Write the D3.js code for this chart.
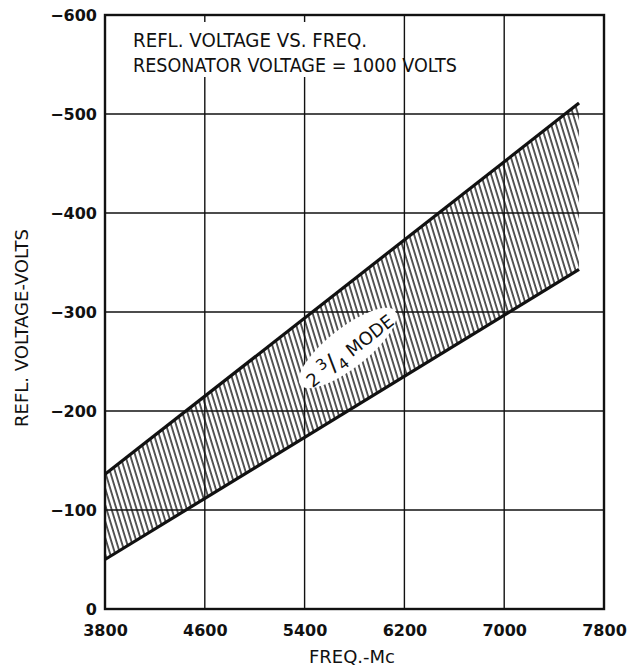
<!DOCTYPE html>
<html>
<head>
<meta charset="utf-8">
<script src="https://cdn.jsdelivr.net/npm/d3@7"></script>
<style>
  body { margin: 0; background: #fff; }
  svg { display: block; }
  text { font-family: "DejaVu Sans", sans-serif; fill: #111; }
</style>
</head>
<body>
<svg id="chart"></svg>
<script>
// band edges (freq in Mc, volts)
const freq = [3800, 7600];
const upperVolts = [-136, -511];
const lowerVolts = [-50, -343];

const xTicks = [3800, 4600, 5400, 6200, 7000, 7800];
const yTicks = [0, -100, -200, -300, -400, -500, -600];

const titleLines = ["REFL.  VOLTAGE  VS.  FREQ.", "RESONATOR  VOLTAGE = 1000  VOLTS"];

const width = 639;
const height = 669;
const plotL = 105, plotR = 604, plotT = 15, plotB = 609;

const svg = d3.select('#chart').attr('width', width).attr('height', height);

const xScale = d3.scaleLinear().domain([3800, 7800]).range([plotL, plotR]);
const yScale = d3.scaleLinear().domain([0, -600]).range([plotB, plotT]);

// hatch pattern
const defs = svg.append('defs');
defs.append('pattern')
  .attr('id', 'hatch')
  .attr('patternUnits', 'userSpaceOnUse')
  .attr('width', 4.8)
  .attr('height', 10)
  .attr('patternTransform', 'rotate(-17)')
  .append('line')
  .attr('x1', 1).attr('y1', -1)
  .attr('x2', 1).attr('y2', 11)
  .attr('stroke', '#111')
  .attr('stroke-width', 1.4);

// grid
svg.append('g').selectAll('line')
  .data(xTicks.slice(1, -1))
  .enter().append('line')
  .attr('x1', d => xScale(d)).attr('x2', d => xScale(d))
  .attr('y1', plotT).attr('y2', plotB)
  .attr('stroke', '#111').attr('stroke-width', 1.4);

svg.append('g').selectAll('line')
  .data(yTicks.slice(1, -1))
  .enter().append('line')
  .attr('x1', plotL).attr('x2', plotR)
  .attr('y1', d => yScale(d)).attr('y2', d => yScale(d))
  .attr('stroke', '#111').attr('stroke-width', 1.4);

// band
const bandData = freq.map((f, i) => ({ f: f, lo: lowerVolts[i], hi: upperVolts[i] }));
const area = d3.area()
  .x(d => xScale(d.f))
  .y0(d => yScale(d.lo))
  .y1(d => yScale(d.hi));

svg.append('path')
  .datum(bandData)
  .attr('d', area)
  .attr('fill', 'url(#hatch)');

// label over the band
const labelF = 5760;
const interp = (arr) => arr[0] + (labelF - freq[0]) / (freq[1] - freq[0]) * (arr[1] - arr[0]);
const lx = xScale(labelF);
const ly = yScale((interp(upperVolts) + interp(lowerVolts)) / 2) + 4;
const angle = -38;

const lab = svg.append('g').attr('transform', 'translate(' + lx + ',' + ly + ') rotate(' + angle + ')');
lab.append('ellipse').attr('cx', 0).attr('cy', -3).attr('rx', 60).attr('ry', 20).attr('fill', '#fff');
const lt = lab.append('text').attr('text-anchor', 'middle').attr('y', 7).style('font-size', '18px');
lt.append('tspan').text('2  ');
lt.append('tspan').attr('dy', -8).style('font-size', '15px').text('3');
lt.append('tspan').attr('dy', 8).style('font-size', '24px').text('/');
lt.append('tspan').attr('dy', 5).style('font-size', '15px').text('4');
lt.append('tspan').attr('dy', -5).text(' MODE');

// band edges
const line = d3.line().x(d => xScale(d[0])).y(d => yScale(d[1]));
[upperVolts, lowerVolts].forEach(vals => {
  svg.append('path')
    .datum(freq.map((f, i) => [f, vals[i]]))
    .attr('d', line)
    .attr('fill', 'none')
    .attr('stroke', '#111')
    .attr('stroke-width', 3.2);
});

// title block
svg.append('rect')
  .attr('x', 125).attr('y', 22).attr('width', 270).attr('height', 55)
  .attr('fill', '#fff');
svg.selectAll('text.title')
  .data(titleLines)
  .enter().append('text')
  .attr('class', 'title')
  .attr('x', 133)
  .attr('y', (d, i) => 47 + i * 25)
  .attr('textLength', (d, i) => i === 0 ? 234 : 324)
  .attr('lengthAdjust', 'spacingAndGlyphs')
  .style('font-size', '19px')
  .text(d => d);

// frame
svg.append('rect')
  .attr('x', plotL).attr('y', plotT)
  .attr('width', plotR - plotL).attr('height', plotB - plotT)
  .attr('fill', 'none').attr('stroke', '#111').attr('stroke-width', 2.4);

// axes
svg.append('g')
  .attr('transform', 'translate(0,' + plotB + ')')
  .call(d3.axisBottom(xScale).tickValues(xTicks).tickSize(0).tickPadding(16).tickFormat(d3.format('d')))
  .call(g => g.select('.domain').remove())
  .selectAll('text')
  .style('font-family', '"DejaVu Sans", sans-serif')
  .style('font-size', '16px')
  .style('font-weight', 'bold')
  .attr('fill', '#111');

svg.append('g')
  .attr('transform', 'translate(' + plotL + ',0)')
  .call(d3.axisLeft(yScale).tickValues(yTicks).tickSize(0).tickPadding(8))
  .call(g => g.select('.domain').remove())
  .selectAll('text')
  .style('font-family', '"DejaVu Sans", sans-serif')
  .style('font-size', '16px')
  .style('font-weight', 'bold')
  .attr('fill', '#111');

svg.append('text')
  .attr('x', 352)
  .attr('y', 663)
  .attr('text-anchor', 'middle')
  .style('font-size', '18px')
  .text('FREQ.-Mc');

svg.append('text')
  .attr('transform', 'translate(28,328) rotate(-90)')
  .attr('text-anchor', 'middle')
  .style('font-size', '18px')
  .text('REFL.  VOLTAGE-VOLTS');
</script>
</body>
</html>
